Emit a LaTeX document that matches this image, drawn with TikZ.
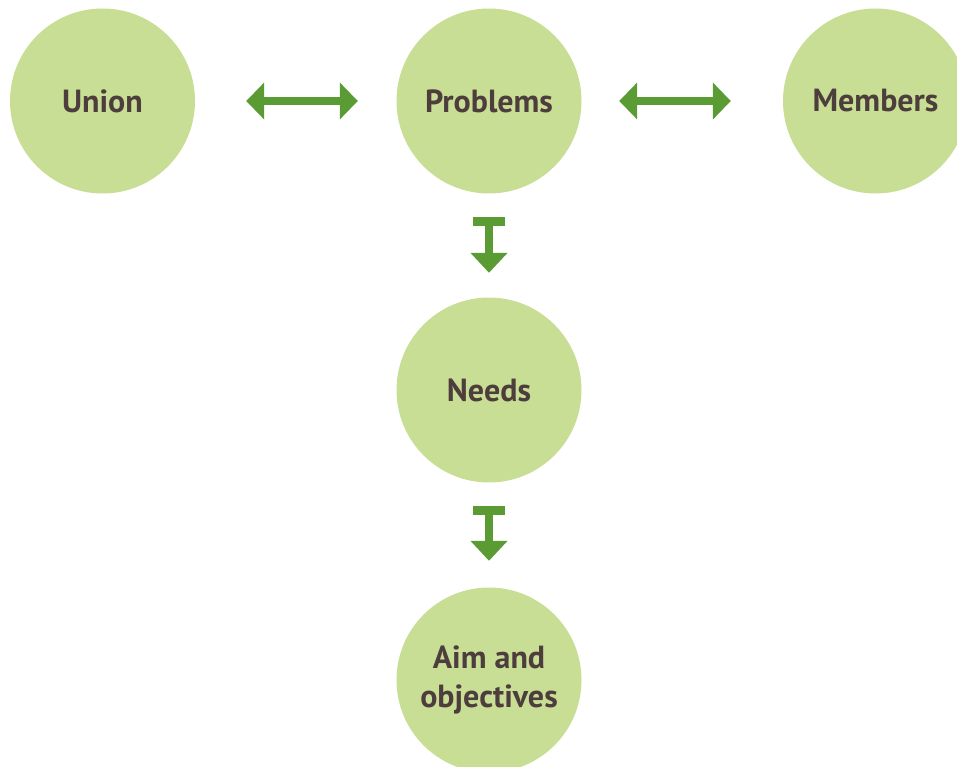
\documentclass[tikz,border=0pt]{standalone}
\usepackage{fontspec}
\setmainfont{PT Sans}
\usepackage{tikz}
\usetikzlibrary{arrows.meta}

\definecolor{kreis}{HTML}{C8DE94}
\definecolor{pfeil}{HTML}{5A9C33}
\definecolor{schrift}{HTML}{4E3D3D}

\begin{document}
\begin{tikzpicture}[x=1pt, y=-1pt]
        \tikzstyle{every node} = [font=\fontsize{32}{39}\selectfont\bfseries, text=schrift]
        \tikzstyle{kr}  = [circle, fill=kreis, inner sep=0pt, minimum size=185pt, align=center]
        \tikzstyle{dop} = [draw=pfeil, line width=8.5pt, {Triangle[length=18pt,width=36pt]}-{Triangle[length=18pt,width=36pt]}]
        \tikzstyle{ab}  = [draw=pfeil, line width=8.5pt, {Bar[width=32pt]}-{Triangle[length=20pt,width=36pt]}]

        \useasboundingbox (0,0) rectangle (957,767);

        \node[kr] (union) at (102.5,101) {Union};
        \node[kr] (problems) at (489,101) {Problems};
        \node[kr] (members) at (875.5,101) {Members};
        \node[kr] (needs) at (489,390) {Needs};
        \node[kr] (aim) at (489,680) {Aim and\\objectives};

        \draw[dop, shorten <=51pt, shorten >=38.5pt] (union) -- (problems);
        \draw[dop, shorten <=37.5pt, shorten >=52pt] (problems) -- (members);
        \draw[ab, shorten <=23.5pt, shorten >=24.5pt] (problems) -- (needs);
        \draw[ab, shorten <=23.5pt, shorten >=26.5pt] (needs) -- (aim);
\end{tikzpicture}
\end{document}
